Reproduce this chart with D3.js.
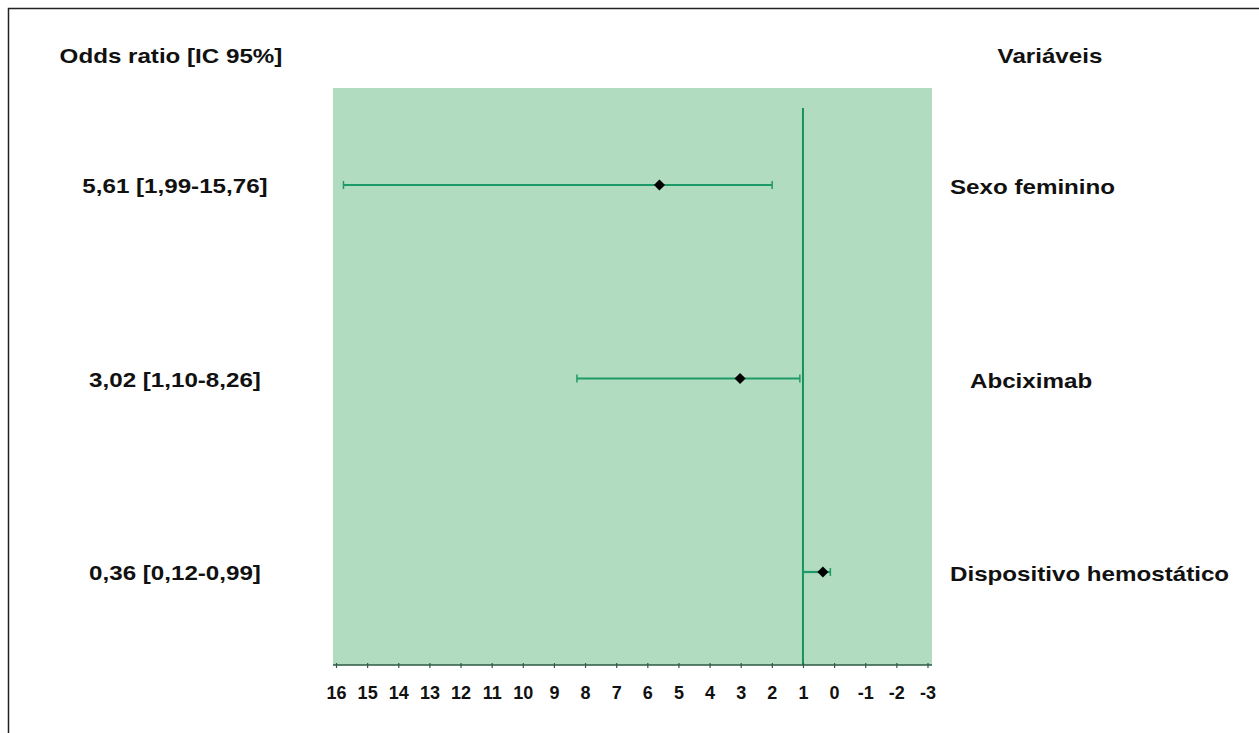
<!DOCTYPE html>
<html>
<head>
<meta charset="utf-8">
<script src="https://cdn.jsdelivr.net/npm/d3@7"></script>
<style>
  body { margin: 0; background: #fff; }
  svg text { font-family: "Liberation Sans", Arial, sans-serif; font-weight: bold; fill: #111; }
</style>
</head>
<body>
<div id="chart"></div>
<script>
// Forest plot data (odds ratios with 95% CI)
const variables = ['Sexo feminino', 'Abciximab', 'Dispositivo hemostático'];
const oddsRatio = [5.61, 3.02, 0.36];
const ciLow = [1.99, 1.10, 0.12];
const ciHigh = [15.76, 8.26, 0.99];
const orLabels = ['5,61 [1,99-15,76]', '3,02 [1,10-8,26]', '0,36 [0,12-0,99]'];
const tickValues = [16, 15, 14, 13, 12, 11, 10, 9, 8, 7, 6, 5, 4, 3, 2, 1, 0, -1, -2, -3];

const width = 1259, height = 733;
const svg = d3.select('#chart').append('svg')
  .attr('width', width)
  .attr('height', height);

// the original text is a bit wider than plain Arial bold
const stretch = 1.15;
function widen(sel) {
  sel.each(function() {
    const w = this.getComputedTextLength();
    d3.select(this)
      .attr('textLength', w * stretch)
      .attr('lengthAdjust', 'spacingAndGlyphs');
  });
}

// outer frame (top and left edges visible)
svg.append('rect')
  .attr('x', 8.5).attr('y', 8.5)
  .attr('width', width + 20).attr('height', height + 20)
  .attr('fill', 'none')
  .attr('stroke', '#222')
  .attr('stroke-width', 1.5);

// plot area
const plot = { left: 333, right: 932, top: 88, bottom: 665 };

// reversed axis: 16 on the left, -3 on the right
const x = d3.scaleLinear().domain([16, -3]).range([336, 927.5]);
const y = d3.scalePoint().domain(variables).range([185, 572]);

svg.append('rect')
  .attr('x', plot.left)
  .attr('y', plot.top)
  .attr('width', plot.right - plot.left)
  .attr('height', plot.bottom - plot.top)
  .attr('fill', '#b1dcbf');

// reference line at OR = 1
svg.append('line')
  .attr('x1', x(1)).attr('x2', x(1))
  .attr('y1', plot.top + 20).attr('y2', plot.bottom)
  .attr('stroke', '#17925e')
  .attr('stroke-width', 2);

// axis
const axis = d3.axisBottom(x)
  .tickValues(tickValues)
  .tickSize(5)
  .tickPadding(18)
  .tickFormat(d => String(d));

const axisG = svg.append('g')
  .attr('transform', `translate(0,${plot.bottom})`)
  .call(axis);
axisG.attr('font-family', null);
axisG.select('.domain')
  .attr('d', `M${plot.left},0H${plot.right}`)
  .attr('stroke', '#2d5a45')
  .attr('stroke-width', 1.5);
axisG.selectAll('.tick line')
  .attr('stroke', '#2d5a45')
  .attr('stroke-width', 1.2)
  .attr('y1', -2)
  .attr('y2', 3);
axisG.selectAll('.tick text')
  .attr('font-size', 18)
  .attr('fill', '#111')
  .attr('dy', '0.6em');

// CI whiskers
const rows = variables.map((v, i) => ({ v, or: oddsRatio[i], lo: ciLow[i], hi: ciHigh[i], label: orLabels[i] }));

const rowG = svg.selectAll('g.row')
  .data(rows)
  .join('g')
  .attr('class', 'row');

rowG.append('line')
  .attr('x1', d => x(d.hi))
  .attr('x2', d => x(d.lo))
  .attr('y1', d => y(d.v))
  .attr('y2', d => y(d.v))
  .attr('stroke', '#1e9a68')
  .attr('stroke-width', 2.2);

// end caps
rowG.selectAll('line.cap')
  .data(d => [d.lo, d.hi].map(c => ({ c, v: d.v })))
  .join('line')
  .attr('class', 'cap')
  .attr('x1', d => x(d.c))
  .attr('x2', d => x(d.c))
  .attr('y1', d => y(d.v) - 4)
  .attr('y2', d => y(d.v) + 4)
  .attr('stroke', '#1e9a68')
  .attr('stroke-width', 1.5);

// point estimate (square turned 45 degrees)
rowG.append('path')
  .attr('d', d3.symbol(d3.symbolSquare, 62)())
  .attr('transform', d => `translate(${x(d.or)},${y(d.v)}) rotate(45)`)
  .attr('fill', '#000');

// left labels
svg.append('text')
  .attr('x', 171).attr('y', 63)
  .attr('text-anchor', 'middle')
  .attr('font-size', 21)
  .text('Odds ratio [IC 95%]')
  .call(widen);

rowG.append('text')
  .attr('x', 175)
  .attr('y', d => y(d.v) + 8)
  .attr('text-anchor', 'middle')
  .attr('font-size', 21)
  .text(d => d.label)
  .call(widen);

// right labels
svg.append('text')
  .attr('x', 1050).attr('y', 63)
  .attr('text-anchor', 'middle')
  .attr('font-size', 21)
  .text('Variáveis')
  .call(widen);

const rightX = [950, 970, 950];
rowG.append('text')
  .attr('x', (d, i) => rightX[i])
  .attr('y', d => y(d.v) + 9)
  .attr('font-size', 21)
  .text(d => d.v)
  .call(widen);
</script>
</body>
</html>
